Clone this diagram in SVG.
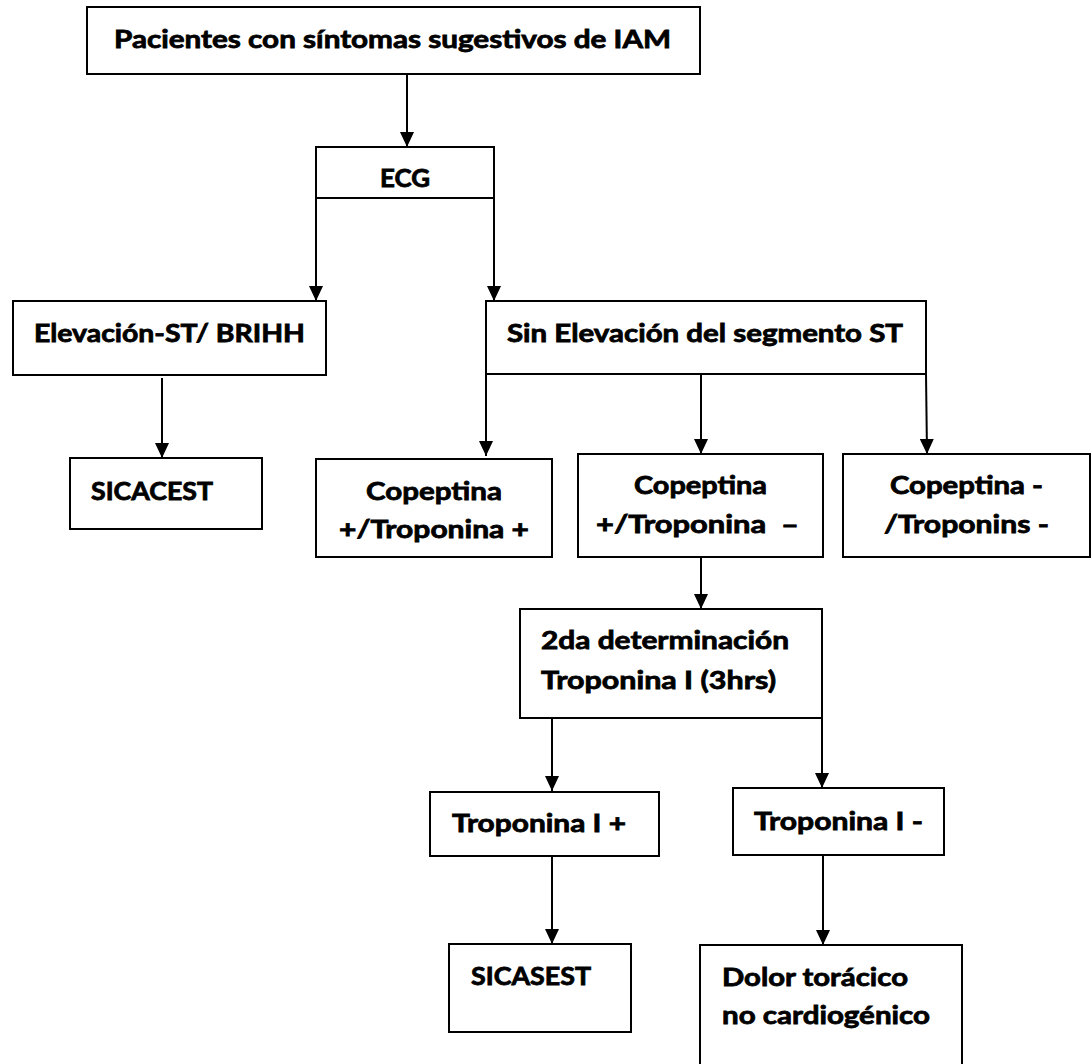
<svg xmlns="http://www.w3.org/2000/svg" width="1092" height="1064" viewBox="0 0 1092 1064">
  <style>
    .box { fill: #ffffff; stroke: #000000; stroke-width: 2; }
    .lbl { font-family: Lato, "Open Sans", "Liberation Sans", sans-serif; font-weight: bold; font-size: 25.5px; fill: #000000; stroke: #000000; stroke-width: 0.8; }
    .edge { fill: none; stroke: #000000; stroke-width: 2; marker-end: url(#arrow); }
  </style>
  <defs>
    <marker id="arrow" markerUnits="userSpaceOnUse" markerWidth="15" markerHeight="14" viewBox="0 0 15 14" refX="15" refY="7" orient="auto">
      <path d="M0,0 L15,7 L0,14 Z" fill="#000000"/>
    </marker>
  </defs>
  <rect width="1092" height="1064" fill="#ffffff"/>

  <g id="connectors">
    <line class="edge" x1="407" y1="74" x2="407" y2="147"/>
    <line class="edge" x1="316" y1="198" x2="316" y2="301"/>
    <line class="edge" x1="494" y1="198" x2="494" y2="301"/>
    <line class="edge" x1="162" y1="378" x2="162" y2="458"/>
    <line class="edge" x1="486" y1="374" x2="486" y2="456"/>
    <line class="edge" x1="701" y1="374" x2="701" y2="454"/>
    <line class="edge" x1="926" y1="374" x2="927" y2="454"/>
    <line class="edge" x1="701" y1="557" x2="701" y2="609"/>
    <line class="edge" x1="552" y1="718" x2="552" y2="791"/>
    <line class="edge" x1="822" y1="718" x2="822" y2="788"/>
    <line class="edge" x1="552" y1="856" x2="552" y2="944"/>
    <line class="edge" x1="823" y1="851" x2="823" y2="945"/>
  </g>

  <g id="n-pacientes">
    <rect class="box" x="87" y="7" width="613" height="67"/>
    <text class="lbl" x="114" y="48" textLength="557" lengthAdjust="spacingAndGlyphs">Pacientes con síntomas sugestivos de IAM</text>
  </g>
  <g id="n-ecg">
    <rect class="box" x="316" y="147" width="178" height="51"/>
    <text class="lbl" x="380" y="187" textLength="50" lengthAdjust="spacingAndGlyphs">ECG</text>
  </g>
  <g id="n-elevacion">
    <rect class="box" x="13" y="301" width="313" height="74"/>
    <text class="lbl" x="34" y="342" textLength="271" lengthAdjust="spacingAndGlyphs">Elevación-ST/ BRIHH</text>
  </g>
  <g id="n-sin-elevacion">
    <rect class="box" x="486" y="301" width="440" height="73"/>
    <text class="lbl" x="507" y="342" textLength="396" lengthAdjust="spacingAndGlyphs">Sin Elevación del segmento ST</text>
  </g>
  <g id="n-sicacest">
    <rect class="box" x="70" y="458" width="192" height="71"/>
    <text class="lbl" x="91" y="500" textLength="122" lengthAdjust="spacingAndGlyphs">SICACEST</text>
  </g>
  <g id="n-cop-pos-trop-pos">
    <rect class="box" x="316" y="459" width="236" height="98"/>
    <text class="lbl" x="366" y="500" textLength="136" lengthAdjust="spacingAndGlyphs">Copeptina</text>
    <text class="lbl" x="339" y="538" textLength="190" lengthAdjust="spacingAndGlyphs">+/Troponina +</text>
  </g>
  <g id="n-cop-pos-trop-neg">
    <rect class="box" x="578" y="454" width="245" height="103"/>
    <text class="lbl" x="634" y="494" textLength="133" lengthAdjust="spacingAndGlyphs">Copeptina</text>
    <text class="lbl" x="596" y="533" textLength="203" lengthAdjust="spacingAndGlyphs" xml:space="preserve">+/Troponina  –</text>
  </g>
  <g id="n-cop-neg-trop-neg">
    <rect class="box" x="843" y="454" width="247" height="103"/>
    <text class="lbl" x="890" y="494" textLength="153" lengthAdjust="spacingAndGlyphs">Copeptina -</text>
    <text class="lbl" x="884" y="533" textLength="165" lengthAdjust="spacingAndGlyphs">/Troponins -</text>
  </g>
  <g id="n-2da">
    <rect class="box" x="520" y="609" width="302" height="109"/>
    <text class="lbl" x="541" y="649" textLength="248" lengthAdjust="spacingAndGlyphs">2da determinación</text>
    <text class="lbl" x="541" y="689" textLength="235" lengthAdjust="spacingAndGlyphs">Troponina I (3hrs)</text>
  </g>
  <g id="n-tropi-pos">
    <rect class="box" x="430" y="792" width="229" height="64"/>
    <text class="lbl" x="452" y="832" textLength="174" lengthAdjust="spacingAndGlyphs">Troponina I +</text>
  </g>
  <g id="n-tropi-neg">
    <rect class="box" x="733" y="788" width="211" height="67"/>
    <text class="lbl" x="754" y="830" textLength="169" lengthAdjust="spacingAndGlyphs">Troponina I -</text>
  </g>
  <g id="n-sicasest">
    <rect class="box" x="449" y="944" width="182" height="88"/>
    <text class="lbl" x="471" y="985" textLength="120" lengthAdjust="spacingAndGlyphs">SICASEST</text>
  </g>
  <g id="n-dolor">
    <rect class="box" x="700" y="945" width="262" height="130"/>
    <text class="lbl" x="722" y="986" textLength="186" lengthAdjust="spacingAndGlyphs">Dolor torácico</text>
    <text class="lbl" x="722" y="1024" textLength="208" lengthAdjust="spacingAndGlyphs">no cardiogénico</text>
  </g>
</svg>
